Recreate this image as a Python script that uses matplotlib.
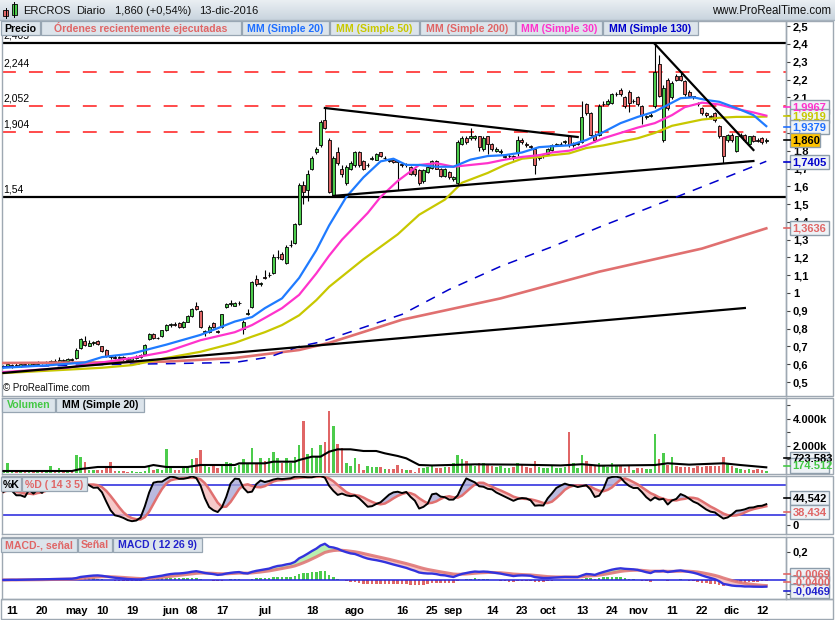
import numpy as np
import pandas as pd
import matplotlib
matplotlib.use("Agg")
import matplotlib.pyplot as plt
from matplotlib.patches import Rectangle
from matplotlib.colors import LinearSegmentedColormap

plt.rcParams['font.family'] = ['Liberation Sans', 'DejaVu Sans']
plt.rcParams['lines.scale_dashes'] = False

W, H = 835, 620

# ---------------- data ----------------
dates = pd.bdate_range("2016-04-07", "2016-12-13")

opens = [0.585, 0.59,
 0.585, 0.595, 0.59, 0.60, 0.595, 0.605, 0.60, 0.61, 0.605, 0.615,
 0.62, 0.615, 0.625, 0.62, 0.63, 0.635, 0.69, 0.73, 0.705, 0.72,
 0.73, 0.70, 0.68, 0.645, 0.64, 0.635, 0.64, 0.63, 0.625, 0.635,
 0.64, 0.66, 0.74, 0.77, 0.745, 0.76, 0.79, 0.82, 0.825, 0.83,
 0.81, 0.84, 0.87, 0.93, 0.90, 0.78, 0.78, 0.83, 0.785, 0.81,
 0.92, 0.94, 0.93, 0.945, 0.80, 0.88, 0.92, 1.08, 1.05, 1.09,
 1.10, 1.11, 1.20, 1.22, 1.17, 1.27, 1.28, 1.39, 1.61, 1.58,
 1.70, 1.79, 1.83, 1.97, 1.86, 1.55, 1.79, 1.70, 1.62, 1.70,
 1.72, 1.79, 1.74, 1.72, 1.755, 1.75, 1.79, 1.76, 1.745, 1.745,
 1.74, 1.725, 1.72, 1.71, 1.70, 1.69, 1.63, 1.68, 1.705, 1.74,
 1.70, 1.66, 1.68, 1.64, 1.62, 1.84, 1.87, 1.87, 1.87, 1.88,
 1.81, 1.88, 1.84, 1.80, 1.79, 1.765, 1.77, 1.77, 1.79, 1.86,
 1.84, 1.825, 1.81, 1.76, 1.77, 1.78, 1.805, 1.83, 1.84, 1.85,
 1.88, 1.83, 1.84, 1.85, 2.06, 2.01, 1.89, 1.89, 2.06, 2.06,
 2.07, 2.12, 2.14, 2.10, 2.13, 2.08, 2.10, 2.05, 1.99, 1.995,
 2.05, 2.29, 1.86, 2.20, 2.10, 2.22, 2.22, 2.19, 2.13, 2.105,
 2.07, 2.04, 2.01, 1.995, 2.01, 1.94, 1.88, 1.86, 1.89, 1.80,
 1.885, 1.89, 1.84, 1.88, 1.86, 1.87, 1.855]

closes = [0.59, 0.60,
 0.595, 0.59, 0.60, 0.595, 0.605, 0.60, 0.61, 0.605, 0.615, 0.62,
 0.615, 0.625, 0.62, 0.63, 0.625, 0.68, 0.74, 0.71, 0.72, 0.725,
 0.715, 0.675, 0.645, 0.64, 0.635, 0.64, 0.63, 0.625, 0.635, 0.64,
 0.65, 0.71, 0.77, 0.745, 0.75, 0.79, 0.82, 0.825, 0.82, 0.81,
 0.84, 0.87, 0.91, 0.91, 0.81, 0.785, 0.81, 0.81, 0.78, 0.88,
 0.94, 0.945, 0.945, 0.945, 0.84, 0.89, 1.06, 1.05, 1.055, 1.085,
 1.10, 1.20, 1.205, 1.19, 1.26, 1.27, 1.39, 1.61, 1.57, 1.67,
 1.76, 1.81, 1.96, 1.93, 1.57, 1.76, 1.73, 1.67, 1.71, 1.73,
 1.79, 1.72, 1.70, 1.72, 1.76, 1.78, 1.77, 1.76, 1.74, 1.735,
 1.735, 1.72, 1.725, 1.67, 1.67, 1.62, 1.69, 1.71, 1.74, 1.70,
 1.66, 1.70, 1.65, 1.65, 1.85, 1.87, 1.85, 1.88, 1.88, 1.82,
 1.87, 1.84, 1.81, 1.81, 1.80, 1.77, 1.77, 1.76, 1.86, 1.85,
 1.83, 1.82, 1.72, 1.77, 1.775, 1.81, 1.83, 1.84, 1.84, 1.855,
 1.83, 1.84, 1.845, 1.99, 2.01, 1.89, 1.86, 2.05, 2.065, 2.08,
 2.12, 2.12, 2.12, 2.05, 2.07, 2.08, 2.06, 2.00, 1.995, 2.00,
 2.24, 2.11, 2.15, 2.04, 2.18, 2.20, 2.20, 2.12, 2.11, 2.10,
 2.06, 2.01, 2.00, 1.99, 1.97, 1.88, 1.77, 1.89, 1.86, 1.88,
 1.89, 1.86, 1.88, 1.855, 1.855, 1.85, 1.86]

highs = [0.595, 0.605,
 0.60, 0.605, 0.605, 0.61, 0.61, 0.615, 0.62, 0.615, 0.62, 0.625,
 0.63, 0.64, 0.63, 0.635, 0.635, 0.69, 0.75, 0.76, 0.735, 0.73,
 0.735, 0.705, 0.685, 0.65, 0.65, 0.645, 0.645, 0.64, 0.64, 0.65,
 0.655, 0.715, 0.775, 0.775, 0.755, 0.795, 0.825, 0.83, 0.835, 0.835,
 0.845, 0.875, 0.915, 0.95, 0.905, 0.79, 0.82, 0.835, 0.79, 0.885,
 0.945, 0.96, 0.95, 0.955, 0.85, 0.91, 1.07, 1.10, 1.06, 1.13,
 1.12, 1.22, 1.24, 1.23, 1.27, 1.30, 1.395, 1.62, 1.63, 1.69,
 1.77, 1.82, 1.97, 2.04, 1.87, 1.77, 1.82, 1.72, 1.72, 1.74,
 1.80, 1.80, 1.75, 1.73, 1.77, 1.785, 1.795, 1.77, 1.75, 1.75,
 1.745, 1.73, 1.73, 1.715, 1.705, 1.695, 1.70, 1.72, 1.745, 1.745,
 1.705, 1.705, 1.685, 1.66, 1.86, 1.88, 1.88, 1.93, 1.89, 1.885,
 1.88, 1.885, 1.845, 1.82, 1.81, 1.78, 1.78, 1.775, 1.88, 1.87,
 1.85, 1.83, 1.815, 1.78, 1.78, 1.815, 1.835, 1.845, 1.85, 1.86,
 1.89, 1.85, 1.85, 2.08, 2.07, 2.02, 1.90, 2.06, 2.08, 2.09,
 2.125, 2.13, 2.15, 2.105, 2.14, 2.09, 2.105, 2.055, 2.00, 2.01,
 2.40, 2.34, 2.17, 2.21, 2.19, 2.23, 2.235, 2.195, 2.14, 2.11,
 2.075, 2.045, 2.02, 2.00, 2.015, 1.945, 1.885, 1.895, 1.90, 1.885,
 1.90, 1.895, 1.885, 1.89, 1.87, 1.875, 1.87]

lows = [0.58, 0.585,
 0.58, 0.585, 0.585, 0.59, 0.59, 0.595, 0.595, 0.60, 0.60, 0.61,
 0.61, 0.61, 0.615, 0.615, 0.62, 0.63, 0.685, 0.705, 0.70, 0.71,
 0.71, 0.67, 0.64, 0.63, 0.63, 0.625, 0.62, 0.62, 0.62, 0.63,
 0.635, 0.655, 0.735, 0.74, 0.74, 0.755, 0.785, 0.81, 0.815, 0.805,
 0.805, 0.835, 0.865, 0.905, 0.805, 0.76, 0.775, 0.805, 0.775, 0.805,
 0.915, 0.93, 0.925, 0.935, 0.77, 0.875, 0.915, 1.04, 1.04, 1.08,
 1.09, 1.105, 1.19, 1.185, 1.165, 1.26, 1.275, 1.385, 1.50, 1.52,
 1.69, 1.78, 1.82, 1.92, 1.56, 1.54, 1.72, 1.65, 1.61, 1.69,
 1.71, 1.71, 1.69, 1.71, 1.75, 1.745, 1.765, 1.75, 1.735, 1.73,
 1.58, 1.71, 1.71, 1.665, 1.66, 1.61, 1.62, 1.675, 1.70, 1.695,
 1.655, 1.655, 1.64, 1.63, 1.61, 1.83, 1.84, 1.86, 1.86, 1.80,
 1.80, 1.78, 1.80, 1.79, 1.78, 1.76, 1.76, 1.75, 1.77, 1.84,
 1.82, 1.81, 1.67, 1.75, 1.76, 1.775, 1.80, 1.825, 1.83, 1.84,
 1.82, 1.82, 1.83, 1.845, 2.00, 1.88, 1.85, 1.885, 2.05, 2.055,
 2.065, 2.11, 2.11, 2.04, 2.02, 2.07, 2.05, 1.95, 1.98, 1.99,
 2.04, 2.10, 1.85, 2.03, 2.09, 2.19, 2.19, 2.11, 2.10, 2.09,
 2.05, 2.00, 1.99, 1.98, 1.96, 1.87, 1.73, 1.85, 1.85, 1.79,
 1.88, 1.85, 1.83, 1.85, 1.85, 1.84, 1.845]

# volume in thousands
volume = [150, 740, 120, 90, 150, 110, 80, 130, 100, 90,
 140, 520, 150, 400, 150, 120, 140, 1330, 1210, 840,
 250, 200, 250, 200, 470, 840, 150, 120, 150, 100,
 130, 110, 100, 150, 420, 220, 300, 250, 1750, 350,
 200, 250, 540, 540, 1040, 1140, 1700, 590, 470, 540,
 400, 640, 840, 720, 470, 590, 1040, 640, 1880, 720,
 1090, 920, 1090, 1530, 1140, 720, 1140, 720, 1210, 2075,
 3850, 1380, 1880, 1280, 2075, 2320, 4620, 3480, 2150, 1830,
 720, 540, 1140, 640, 220, 520, 470, 470, 470, 300,
 300, 300, 590, 300, 200, 200, 100, 340, 380, 480,
 520, 380, 380, 430, 480, 720, 1300, 1000, 860, 620,
 520, 720, 760, 620, 520, 480, 520, 380, 340, 430,
 720, 620, 430, 380, 860, 480, 340, 380, 520, 380,
 380, 430, 3000, 720, 380, 1300, 860, 620, 520, 720,
 540, 470, 720, 520, 540, 400, 590, 220, 350, 400,
 300, 300, 2860, 1040, 1460, 590, 1190, 520, 470, 420,
 470, 400, 490, 420, 520, 520, 540, 540, 1190, 640,
 520, 400, 300, 220, 300, 220, 300, 220, 175]

# moving averages (day index, value)
ma20_idx = [0, 11, 19, 23, 30, 38, 46, 54, 58, 61, 65, 69, 73, 76, 80, 84, 88, 91, 94, 97, 101, 105,
            109, 113, 117, 121, 125, 128, 132, 136, 140, 144, 148, 152, 156, 158, 161, 164, 167, 171, 175, 178]
ma20_val = [0.58, 0.595, 0.61, 0.64, 0.66, 0.71, 0.765, 0.84, 0.865, 0.915, 0.97, 1.085, 1.24, 1.38, 1.54,
            1.65, 1.74, 1.755, 1.72, 1.72, 1.71, 1.71, 1.75, 1.77, 1.775, 1.79, 1.82, 1.825, 1.83, 1.86,
            1.905, 1.955, 1.99, 2.02, 2.07, 2.095, 2.10, 2.085, 2.075, 2.04, 2.0, 1.938]
ma30_idx = [0, 15, 23, 30, 38, 46, 54, 58, 61, 65, 69, 73, 76, 79, 85, 88, 92, 97, 101, 105, 109, 113,
            117, 121, 125, 128, 132, 136, 140, 144, 148, 152, 156, 159, 163, 167, 171, 175, 178]
ma30_val = [0.556, 0.58, 0.61, 0.635, 0.67, 0.735, 0.78, 0.82, 0.86, 0.915, 0.99, 1.11, 1.21, 1.30, 1.45,
            1.54, 1.63, 1.72, 1.73, 1.71, 1.72, 1.73, 1.75, 1.765, 1.775, 1.79, 1.80, 1.83, 1.87, 1.90,
            1.93, 1.955, 2.0, 2.045, 2.07, 2.06, 2.035, 2.015, 1.997]
ma50_idx = [0, 23, 30, 38, 46, 54, 58, 61, 65, 69, 73, 76, 84, 92, 97, 103, 107, 113, 117, 121, 125, 128,
            132, 136, 140, 144, 148, 152, 156, 159, 163, 167, 171, 175, 178]
ma50_val = [0.55, 0.58, 0.595, 0.635, 0.67, 0.72, 0.755, 0.78, 0.82, 0.875, 0.96, 1.035, 1.19, 1.33, 1.44,
            1.525, 1.62, 1.675, 1.72, 1.755, 1.765, 1.775, 1.785, 1.815, 1.83, 1.85, 1.87, 1.90, 1.94,
            1.955, 1.975, 1.985, 1.99, 1.99, 1.992]
ma200_idx = [0, 23, 38, 54, 69, 76, 93, 116, 139, 163, 178]
ma200_val = [0.607, 0.61, 0.615, 0.635, 0.68, 0.72, 0.85, 0.97, 1.12, 1.25, 1.3636]
ma130_idx = [0, 23, 38, 54, 62, 69, 74, 93, 104, 116, 128, 139, 156, 167, 178]
ma130_val = [0.585, 0.598, 0.603, 0.61, 0.64, 0.70, 0.725, 0.88, 1.02, 1.15, 1.26, 1.37, 1.53, 1.635, 1.7405]
vma_idx = [0, 16, 18, 22, 33, 35, 38, 43, 46, 54, 55, 61, 63, 68, 69, 72, 74, 76, 78, 81, 84, 87, 89, 92,
           94, 97, 100, 110, 120, 130, 135, 139, 152, 155, 160, 168, 172, 178]
vma_val = [148, 148, 296, 445, 445, 590, 445, 445, 593, 593, 716, 716, 840, 840, 963, 1210, 1210, 1580,
           1754, 1754, 1630, 1630, 1457, 1260, 1087, 593, 560, 640, 620, 560, 650, 543, 590, 720, 620,
           720, 590, 420]

# levels and trend lines
red_levels = [2.244, 2.052, 1.904]
red_labels = ["2,244", "2,052", "1,904"]
black_levels = [2.405, 1.54]
black_labels = ["2,405", "1,54"]
trend_lines = [((75, 2.04), (134, 1.877)),
               ((77, 1.546), (175, 1.742)),
               ((0, 0.551), (173, 0.916)),
               ((152, 2.40), (175, 1.804))]

tick_dates = ['2016-04-11', '2016-04-20', '2016-05-02', '2016-05-10', '2016-05-19', '2016-06-01',
              '2016-06-08', '2016-06-17', '2016-07-01', '2016-07-18', '2016-08-01', '2016-08-16',
              '2016-08-25', '2016-09-01', '2016-09-14', '2016-09-23', '2016-10-03', '2016-10-13',
              '2016-10-24', '2016-11-01', '2016-11-11', '2016-11-22', '2016-12-01', '2016-12-12']
tick_labels = ['11', '20', 'may', '10', '19', 'jun', '08', '17', 'jul', '18', 'ago', '16', '25', 'sep',
               '14', '23', 'oct', '13', '24', 'nov', '11', '22', 'dic', '12']

# ---------------- indicators ----------------
o = np.array(opens); c = np.array(closes); h = np.array(highs); l = np.array(lows)
v = np.array(volume, dtype=float)
n = len(c)
x = np.arange(n)
cs = pd.Series(c)
hh = pd.Series(h).rolling(14, min_periods=1).max()
ll = pd.Series(l).rolling(14, min_periods=1).min()
raw = (cs - ll) / (hh - ll) * 100
stk = raw.rolling(3, min_periods=1).mean().values
std = pd.Series(stk).rolling(5, min_periods=1).mean().values
ema12 = cs.ewm(span=12, adjust=False).mean()
ema26 = cs.ewm(span=26, adjust=False).mean()
macd = (ema12 - ema26).values
sig = pd.Series(macd).ewm(span=9, adjust=False).mean().values
hist = macd - sig

GREEN = '#4ccc4c'
RED = '#e06666'
up = c >= o
cols = np.where(up, GREEN, RED)

# ---------------- figure ----------------
fig = plt.figure(figsize=(W / 100, H / 100), dpi=100)
fig.patch.set_facecolor('white')
XMIN, XMAX = -0.33, 182.6


def px_axes(x0, y0, x1, y1):
    return fig.add_axes([x0 / W, 1 - y1 / H, (x1 - x0) / W, (y1 - y0) / H])


def style(ax):
    ax.set_xlim(XMIN, XMAX)
    for s in ax.spines.values():
        s.set_color('#9ea8b2')
        s.set_linewidth(1)
    ax.yaxis.tick_right()
    ax.tick_params(axis='y', direction='out', length=3, width=0.8, color='#444444', pad=2,
                   labelsize=8)
    ax.tick_params(axis='x', length=0)
    ax.set_xticks([])


ax_p = px_axes(2, 21, 786, 396)
ax_v = px_axes(2, 398, 786, 474)
ax_s = px_axes(2, 476, 786, 534)
ax_m = px_axes(2, 537, 786, 599)
for a in (ax_p, ax_v, ax_s, ax_m):
    style(a)

# price panel
ax_p.set_ylim(0.4214, 2.529)
yt = np.round(np.arange(0.5, 2.501, 0.1), 1)
ax_p.set_yticks(yt)
ax_p.set_yticklabels([('%g' % t).replace('.', ',') for t in yt], fontweight='bold')

for lvl, lab in zip(red_levels, red_labels):
    ax_p.axhline(lvl, color='#ff1a1a', lw=1.1, dashes=(10, 9.4), zorder=1)
    ax_p.annotate(lab, xy=(0, lvl), xycoords=('axes fraction', 'data'), xytext=(1, 2),
                  textcoords='offset points', fontsize=7.5, va='bottom', ha='left')
for lvl, lab in zip(black_levels, black_labels):
    ax_p.axhline(lvl, color='black', lw=1.6, zorder=1)
    ax_p.annotate(lab, xy=(0, lvl), xycoords=('axes fraction', 'data'), xytext=(1, 2),
                  textcoords='offset points', fontsize=7.5, va='bottom', ha='left')

ax_p.vlines(x, l, h, color='black', lw=0.8, zorder=2)
ax_p.bar(x, np.abs(c - o), bottom=np.minimum(o, c), width=0.7, color=cols, edgecolor='black',
         linewidth=0.6, zorder=3)

ax_p.plot(ma200_idx, ma200_val, color='#e07070', lw=1.9, zorder=4)
ax_p.plot(ma130_idx, ma130_val, color='#0000cc', lw=1.1, dashes=(7, 6), zorder=4)
ax_p.plot(ma50_idx, ma50_val, color='#c8c800', lw=1.6, zorder=4)
ax_p.plot(ma30_idx, ma30_val, color='#ff33cc', lw=1.6, zorder=4)
ax_p.plot(ma20_idx, ma20_val, color='#1f7bff', lw=1.6, zorder=4)
for (x0, y0), (x1, y1) in trend_lines:
    ax_p.plot([x0, x1], [y0, y1], color='black', lw=1.6, zorder=5)

# volume panel
ax_v.set_ylim(-74, 5555)
ax_v.bar(x, v, width=0.6, color=cols, zorder=2)
ax_v.plot(vma_idx, vma_val, color='black', lw=1.5, zorder=3)
ax_v.set_yticks([1000, 2000, 3000, 4000, 5000])
ax_v.set_yticklabels(['', '2.000k', '', '4.000k', ''], fontweight='bold')

# stochastic panel
ax_s.set_ylim(-17.4, 98.6)
ax_s.axhline(80, color='#2222dd', lw=1.1, zorder=1)
ax_s.axhline(20, color='#2222dd', lw=1.1, zorder=1)
ax_s.fill_between(x, stk, std, where=stk >= std, interpolate=True, color='#a9a9d8', alpha=0.8, lw=0)
ax_s.fill_between(x, stk, std, where=stk < std, interpolate=True, color='#f4bcbc', alpha=0.8, lw=0)
ax_s.plot(x, std, color='#e07070', lw=1.8, zorder=3)
ax_s.plot(x, stk, color='black', lw=1.4, zorder=4)
ax_s.set_yticks([0])
ax_s.set_yticklabels(['0'], fontweight='bold')

# MACD panel
ax_m.set_ylim(-0.136, 0.307)
ax_m.bar(x, hist, width=0.6, color=np.where(hist >= 0, GREEN, RED), zorder=2)
ax_m.axhline(0, color='#2222dd', lw=1.1, zorder=3)
ax_m.fill_between(x, macd, sig, where=macd >= sig, interpolate=True, color='#b8f0b0', lw=0, zorder=3)
ax_m.fill_between(x, macd, sig, where=macd < sig, interpolate=True, color='#f6c4c4', lw=0, zorder=3)
ax_m.plot(x, sig, color='#e07878', lw=2.2, alpha=0.9, zorder=4)
ax_m.plot(x, macd, color='#3333dd', lw=1.7, zorder=5)
ax_m.set_yticks([-0.1, 0.2])
ax_m.set_yticklabels(['', '0,2'], fontweight='bold')
tpos = [dates.get_loc(pd.Timestamp(d)) for d in tick_dates]
ax_m.set_xticks(tpos)
ax_m.set_xticklabels(tick_labels, fontweight='bold', fontsize=8)
ax_m.tick_params(axis='x', length=0, pad=5)

# ---------------- overlay (pixel coordinates) ----------------
ov = fig.add_axes([0, 0, 1, 1])
ov.set_zorder(10)
ov.patch.set_alpha(0)
grad = LinearSegmentedColormap.from_list('g', ['#eaeff3', '#c9d4de'])
ov.imshow(np.linspace(0, 1, 32).reshape(-1, 1), cmap=grad, extent=(0, W, 20, 0), aspect='auto')
ov.set_xlim(0, W)
ov.set_ylim(H, 0)
ov.axis('off')
ov.plot([0, W], [20, 20], color='#a6b2bd', lw=1)

# icon
ov.plot([5.5, 5.5], [8, 18], color='black', lw=0.7)
ov.add_patch(Rectangle((3, 10), 5, 6, fc=RED, ec='black', lw=0.6))
ov.plot([14, 14], [2, 17], color='black', lw=0.7)
ov.add_patch(Rectangle((11.5, 4), 5, 11, fc=GREEN, ec='black', lw=0.6))

for tx, xx in [("ERCROS", 23), ("Diario", 76), ("1,860 (+0,54%)", 115), ("13-dic-2016", 199)]:
    ov.text(xx, 11.5, tx, fontsize=8, va='center', ha='left', color='#111111')
ov.text(831, 11.5, "www.ProRealTime.com", fontsize=8.3, va='center', ha='right', color='#111111')


def lbox(x0, x1, y0, y1, text, color, fs=7.6):
    ov.add_patch(Rectangle((x0, y0), x1 - x0, y1 - y0, fc='#dce4eb', ec='#97a5b2', lw=0.9))
    ov.text((x0 + x1) / 2, (y0 + y1) / 2 + 0.5, text, color=color, fontsize=fs, fontweight='bold',
            ha='center', va='center')


lbox(0.5, 40, 21, 35, "Precio", 'black')
lbox(41, 241, 21, 35, "Órdenes recientemente ejecutadas", '#e06666')
lbox(242, 329, 21, 35, "MM (Simple 20)", '#1f6fff')
lbox(330, 419, 21, 35, "MM (Simple 50)", '#c8c800')
lbox(420, 515, 21, 35, "MM (Simple 200)", '#e06666')
lbox(516, 602, 21, 35, "MM (Simple 30)", '#ff33cc')
lbox(603, 698, 21, 35, "MM (Simple 130)", '#0000cc')

lbox(2, 55, 398, 412, "Volumen", '#44c844')
lbox(56, 144, 398, 412, "MM (Simple 20)", 'black')
lbox(0.5, 21, 477, 491, "%K", 'black')
lbox(22, 87, 477, 491, "%D ( 14 3 5)", '#e06666')
lbox(0.5, 77, 538, 552, "MACD-, señal", '#e06666')
lbox(78, 112, 538, 552, "Señal", '#e06666')
lbox(113, 202, 538, 552, "MACD ( 12 26 9)", '#2222cc')


def vbox(yc, text, color, fc='#eef2f6', w=39, hgt=14):
    ov.plot([784, 790], [yc, yc], color=color, lw=1.2)
    ov.add_patch(Rectangle((790, yc - hgt / 2), w, hgt, fc=fc, ec='#8d9dab', lw=1))
    ov.text(792.5, yc + 0.5, text, color=color, fontsize=8, fontweight='bold', ha='left',
            va='center')


vbox(106.5, "1,9967", '#ff33cc')
vbox(116, "1,9919", '#c8c800')
vbox(126.5, "1,9379", '#1f6fff')
vbox(140, "1,860", 'black', fc='#ffc400', w=30)
vbox(162, "1,7405", '#0000cc')
vbox(228, "1,3636", '#e06666')

vbox(458, "723.583", 'black', hgt=12)
vbox(465.5, "174.512", '#44c844', hgt=15)

vbox(498, "44,542", 'black')
vbox(512, "38,434", '#e06666')

vbox(574, "-0,0069", '#e06666', hgt=13)
vbox(582, "-0,0400", '#e06666', hgt=12)
vbox(591, "-0,0469", '#2222cc')

# right strip frames and bottom strip
for (y0, y1) in [(21, 396), (398, 474), (476, 534), (537, 599)]:
    ov.add_patch(Rectangle((786, y0), 47, y1 - y0, fc='none', ec='#9ea8b2', lw=1))
ov.add_patch(Rectangle((0.5, 599), 832.5, 20, fc='none', ec='#9ea8b2', lw=1))

ov.text(3, 388, "© ProRealTime.com", fontsize=7, va='center', ha='left', color='#111111')

fig.savefig("out.png", dpi=100)
